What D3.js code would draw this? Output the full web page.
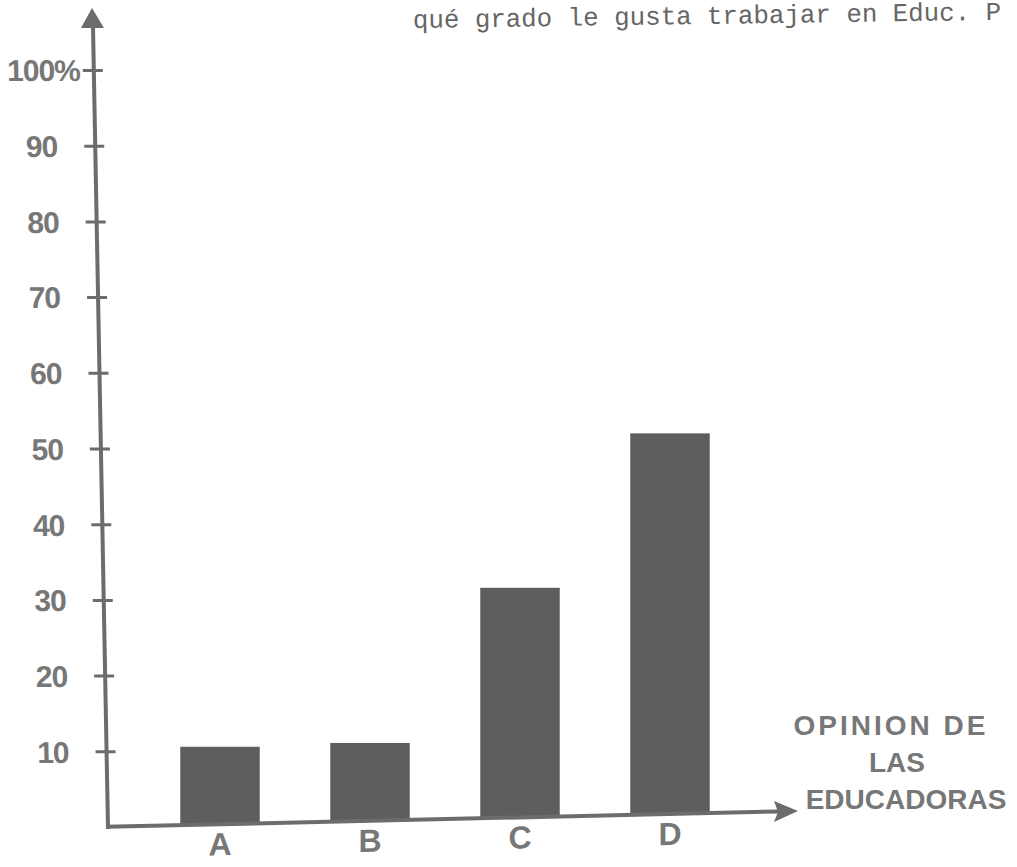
<!DOCTYPE html>
<html>
<head>
<meta charset="utf-8">
<script src="https://cdn.jsdelivr.net/npm/d3@7"></script>
<style>
  body { margin: 0; background: #fff; }
  svg { display: block; }
  .lettering { font-family: "Liberation Sans", Arial, sans-serif; font-weight: bold; fill: #777; }
  .typed { font-family: "Liberation Mono", "Courier New", monospace; fill: #666; }
</style>
</head>
<body>
<div id="chart"></div>
<script>
// data
const categories = ['A', 'B', 'C', 'D'];
const percentages = [10.6, 11.1, 31.6, 52.0];
const yTickValues = [10, 20, 30, 40, 50, 60, 70, 80, 90, 100];
const axisLabelLines = ['OPINION DE', 'LAS', 'EDUCADORAS'];
const headerText = 'qué grado le gusta trabajar en Educ. P';

const width = 1017, height = 867;
const ink = '#6c6c6c';

const svg = d3.select('#chart').append('svg')
  .attr('width', width)
  .attr('height', height);

// scales
const y = d3.scaleLinear().domain([0, 100]).range([827, 70]);
const x = d3.scaleBand()
  .domain(categories)
  .range([145, 745])
  .paddingInner(0.47)
  .paddingOuter(0.235);

// hand drawn axes lean a little
const ySlope = 15 / 801;        // y axis drifts right going down
const xSlope = -16 / 698;       // x axis rises going right
const yAxisX = yy => 92.5 + yy * ySlope;
const baseY = xx => 829.3 + xx * xSlope;

// bars
svg.append('g')
  .selectAll('rect')
  .data(percentages)
  .join('rect')
    .attr('x', (d, i) => x(categories[i]))
    .attr('y', d => y(d))
    .attr('width', x.bandwidth())
    .attr('height', (d, i) => baseY(x(categories[i]) + x.bandwidth() / 2) - y(d))
    .attr('fill', '#5e5e5e');

// y axis (skewed so it leans like the drawing)
const yAxisG = svg.append('g')
  .attr('transform', 'translate(92.5,0) skewX(' + (Math.atan(ySlope) * 180 / Math.PI) + ')')
  .call(d3.axisLeft(y)
    .tickValues(yTickValues)
    .tickFormat(d => d === 100 ? '100%' : d)
    .tickPadding(0));
yAxisG.select('.domain').remove();
yAxisG.selectAll('.tick line')
  .attr('x1', -11).attr('x2', 9)
  .attr('stroke', ink).attr('stroke-width', 3);
yAxisG.selectAll('.tick text')
  .attr('class', 'lettering')
  .attr('x', d => d === 100 ? -14 : -38)
  .attr('dy', '0.36em')
  .style('font-size', '30px')
  .style('letter-spacing', '-1px');
yAxisG.attr('font-family', null).attr('font-size', null);

svg.append('line')
  .attr('x1', yAxisX(27)).attr('y1', 27)
  .attr('x2', yAxisX(829)).attr('y2', 829)
  .attr('stroke', ink).attr('stroke-width', 4);
svg.append('path')
  .attr('d', d3.line()([[92, 8], [81, 28], [104, 28]]) + 'Z')
  .attr('fill', ink);

// x axis
const xAxisG = svg.append('g')
  .attr('transform', 'translate(0,829.3) skewY(' + (Math.atan(xSlope) * 180 / Math.PI) + ')')
  .call(d3.axisBottom(x).tickSize(0).tickPadding(0));
xAxisG.select('.domain').remove();
xAxisG.selectAll('.tick text')
  .attr('class', 'lettering')
  .attr('y', 31)
  .attr('dy', null)
  .style('font-size', '32px');
xAxisG.attr('font-family', null).attr('font-size', null);

svg.append('line')
  .attr('x1', 106).attr('y1', baseY(106))
  .attr('x2', 780).attr('y2', baseY(780))
  .attr('stroke', ink).attr('stroke-width', 4);
svg.append('path')
  .attr('d', d3.line()([[798, 811], [774, 801], [778, 812], [774, 822]]) + 'Z')
  .attr('fill', ink);

// axis caption
const captionX = [891, 897, 906];
const captionY = [735, 772, 809];
svg.append('g')
  .selectAll('text')
  .data(axisLabelLines)
  .join('text')
    .attr('class', 'lettering')
    .attr('x', (d, i) => captionX[i])
    .attr('y', (d, i) => captionY[i])
    .attr('text-anchor', 'middle')
    .style('font-size', '28px')
    .style('letter-spacing', (d, i) => i === 0 ? '3px' : '0px')
    .text(d => d);

// typed header
svg.append('text')
  .attr('class', 'typed')
  .attr('x', 413)
  .attr('y', 28)
  .attr('transform', 'rotate(-0.8,413,28)')
  .style('font-size', '25.8px')
  .text(headerText);
</script>
</body>
</html>
